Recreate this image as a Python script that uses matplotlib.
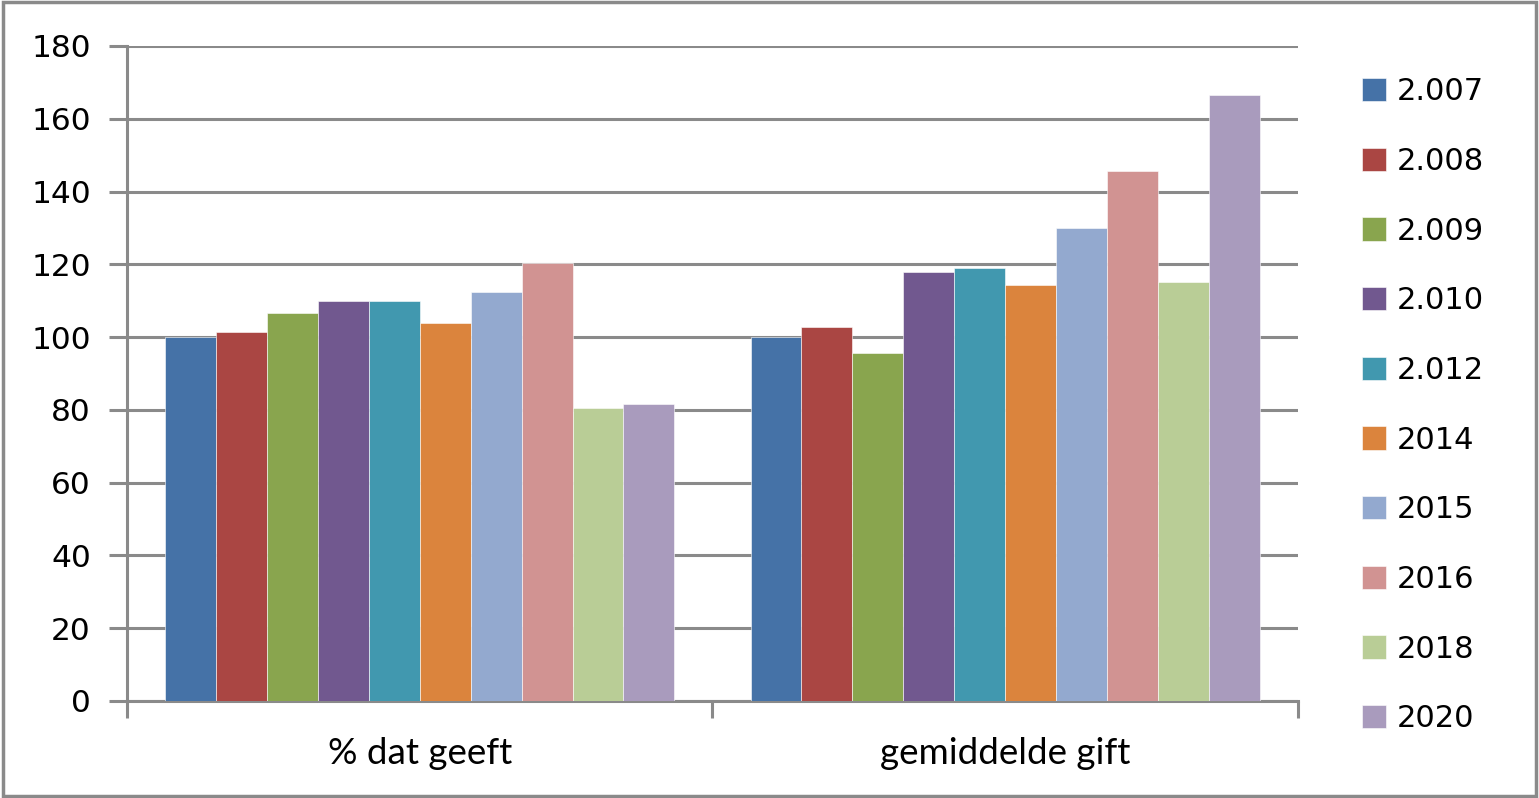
import matplotlib.pyplot as plt
import numpy as np
from matplotlib.patches import Rectangle

categories = ["% dat geeft", "gemiddelde gift"]
series = ["2.007", "2.008", "2.009", "2.010", "2.012", "2014", "2015", "2016", "2018", "2020"]
values = [
    [100, 100],
    [101.3, 102.8],
    [106.7, 95.7],
    [109.8, 118.0],
    [109.8, 118.9],
    [103.9, 114.4],
    [112.4, 130.1],
    [120.4, 145.7],
    [80.5, 115.0],
    [81.6, 166.6],
]
colors = ["#4572A7", "#AA4643", "#89A54E", "#71588F", "#4198AF",
          "#DB843D", "#93A9CF", "#D19392", "#B9CD96", "#A99BBD"]

grid_col = "#8a8a8a"

fig = plt.figure(figsize=(15.39, 7.98), dpi=100)
ax = fig.add_axes([0.0825, 0.1216, 0.7609, 0.8208])

# outer chart border
fig.patches.append(Rectangle((0.002, 0.003), 0.996, 0.994, transform=fig.transFigure,
                             fill=False, edgecolor=grid_col, linewidth=2.5))

x = np.arange(len(categories))
n = len(series)
w = 0.87 / n
for i, (name, vals) in enumerate(zip(series, values)):
    ax.bar(x - 0.435 + w * (i + 0.5), vals, width=w, color=colors[i],
           edgecolor="white", linewidth=0.4, label=name, zorder=3)

ax.set_ylim(0, 180)
ax.set_xlim(-0.5, 1.5)
ax.set_yticks(range(0, 181, 20))
ax.yaxis.grid(True, color=grid_col, linewidth=2.2, zorder=0)
ax.set_axisbelow(True)

ax.set_xticks(x)
ax.set_xticklabels(categories, fontsize=26.5, family="Lato")
ax.set_xticks([-0.5, 0.5, 1.5], minor=True)
ax.tick_params(axis="x", which="major", length=0, pad=26)
ax.tick_params(axis="x", which="minor", length=12, width=2.2, color=grid_col)
ax.tick_params(axis="y", length=13, width=2.2, color=grid_col, pad=13, labelsize=22.5)

for s in ["top", "right"]:
    ax.spines[s].set_visible(False)
for s in ["left", "bottom"]:
    ax.spines[s].set_color(grid_col)
    ax.spines[s].set_linewidth(2.2)

leg = ax.legend(loc="upper left", bbox_to_anchor=(1.031, 0.994), frameon=False,
                fontsize=22, handlelength=0.8, handleheight=0.8, handletextpad=0.36,
                labelspacing=1.33)

fig.savefig("out.png", dpi=100)
